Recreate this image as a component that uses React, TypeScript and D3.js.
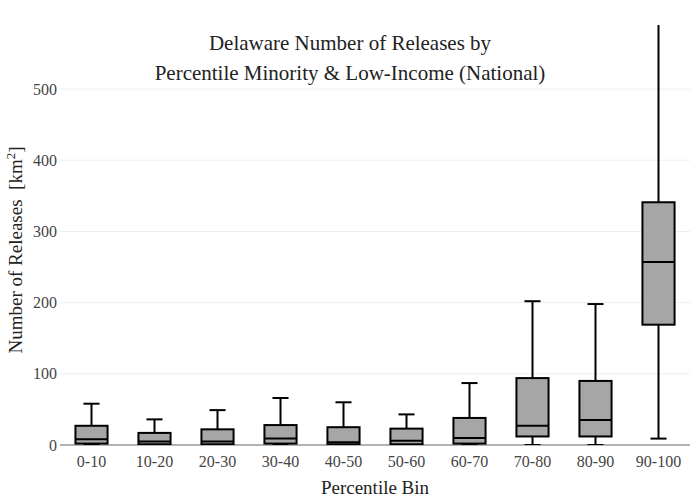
import React from "react";
import * as d3 from "d3";

const categories = ["0-10","10-20","20-30","30-40","40-50","50-60","60-70","70-80","80-90","90-100"];
const mins = [0,0,0,0,0,0,0,0,0,9];
const q1s = [2,1,1,2,1,1,2,12,12,169];
const medians = [8,5,5,9,4,6,10,27,35,257];
const q3s = [27,17,22,28,25,23,38,94,90,341];
const maxs = [58,36,49,66,60,43,87,202,198,600];
const yTicks = [0,100,200,300,400,500];

export default function App() {
  const W = 700, H = 500, L = 60, R = 690, T = 25, B = 445;
  const x = d3.scaleBand().domain(categories).range([L, R]).paddingInner(0.49).paddingOuter(0.245);
  const y = d3.scaleLinear().domain([0, 590]).range([B, T]);
  const bw = x.bandwidth();
  const font = "Liberation Serif, Tinos, Times New Roman, DejaVu Serif, serif";
  return (
    <svg width={W} height={H} fontFamily={font} style={{ position: "absolute", left: 0, top: 0 }}>
      <rect width={W} height={H} fill="#fff" />
      <defs><clipPath id="c"><rect x={L} y={T} width={R - L} height={B - T} /></clipPath></defs>
      {yTicks.map(t => (
        <g key={t}>
          {t > 0 && <line x1={L} x2={R} y1={y(t)} y2={y(t)} stroke="#eee" />}
          <text x={L - 3} y={y(t)} dy="0.35em" textAnchor="end" fontSize={16} fill="#444" fontFamily={font}>{t}</text>
        </g>
      ))}
      <line x1={L} x2={R} y1={B} y2={B} stroke="#999" strokeWidth={1.5} />
      <g clipPath="url(#c)">
        {categories.map((c, i) => {
          const cx = x(c)! + bw / 2;
          return (
            <g key={c} stroke="#000" strokeWidth={2}>
              <line x1={cx} x2={cx} y1={y(q3s[i])} y2={y(maxs[i])} />
              <line x1={cx} x2={cx} y1={y(q1s[i])} y2={y(mins[i])} />
              <line x1={cx - bw / 4} x2={cx + bw / 4} y1={y(maxs[i])} y2={y(maxs[i])} />
              <line x1={cx - bw / 4} x2={cx + bw / 4} y1={y(mins[i])} y2={y(mins[i])} />
              <rect x={x(c)} y={y(q3s[i])} width={bw} height={y(q1s[i]) - y(q3s[i])} fill="#a6a6a6" />
              <line x1={x(c)} x2={x(c)! + bw} y1={y(medians[i])} y2={y(medians[i])} />
            </g>
          );
        })}
      </g>
      {categories.map(c => (
        <text key={c} x={x(c)! + bw / 2} y={B + 22} textAnchor="middle" fontSize={16} fill="#444" fontFamily={font}>{c}</text>
      ))}
      <text x={350} y={50} textAnchor="middle" fontSize={21} fill="#222" fontFamily={font}>Delaware Number of Releases by</text>
      <text x={350} y={80} textAnchor="middle" fontSize={21} fill="#222" fontFamily={font}>Percentile Minority &amp; Low-Income (National)</text>
      <text x={375} y={494} textAnchor="middle" fontSize={19} fill="#222" fontFamily={font}>Percentile Bin</text>
      <text transform={`translate(22,${(T + B) / 2 + 15}) rotate(-90)`} textAnchor="middle" fontSize={19} fill="#222" fontFamily={font} style={{ whiteSpace: "pre" }}>
        {"Number of Releases  [km"}<tspan dy={-7} fontSize={13}>2</tspan><tspan dy={7}>]</tspan>
      </text>
    </svg>
  );
}
